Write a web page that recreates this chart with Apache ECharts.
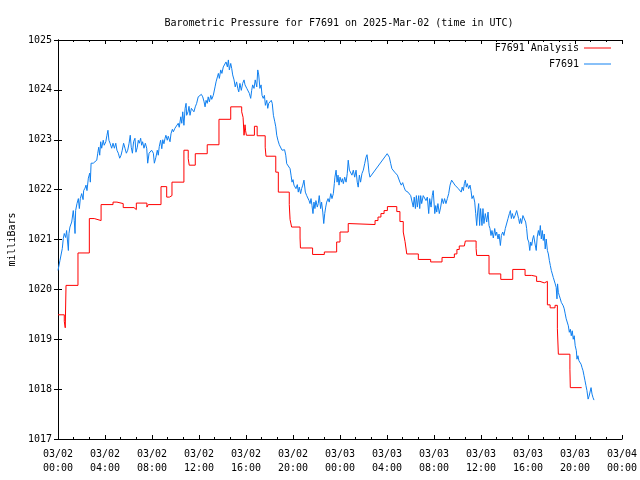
<!DOCTYPE html>
<html>
<head>
<meta charset="utf-8">
<script src="https://cdn.jsdelivr.net/npm/echarts@6/dist/echarts.min.js"></script>
<style>html,body{margin:0;padding:0;background:#fff}#c{width:640px;height:480px}</style>
</head>
<body>
<div id="c"></div>
<script>
// minutes since 2025-03-02 00:00 UTC
const blueTime = [0,10,22,27,32,39,44,49,53,56,61,70,78,83,87,90,97,104,109,114,121,128,131,138,143,148,155,162,165,169,180,189,198,203,208,213,218,223,231,236,244,250,255,260,266,274,281,288,295,301,308,315,322,328,335,342,349,356,363,369,374,380,386,393,398,405,410,415,422,427,432,439,446,453,458,465,471,478,487,492,500,507,512,517,524,530,535,541,546,551,558,563,572,577,584,589,597,606,614,619,627,632,637,643,649,654,657,664,669,674,681,688,694,701,708,716,725,732,739,746,751,756,762,767,773,780,785,793,802,807,814,819,824,831,837,844,851,858,865,870,875,882,887,892,899,905,912,918,923,929,936,943,950,955,964,970,977,984,989,994,1001,1007,1015,1020,1025,1031,1037,1042,1048,1054,1059,1066,1071,1076,1083,1089,1094,1100,1107,1112,1117,1123,1130,1137,1144,1151,1157,1163,1168,1176,1185,1190,1195,1200,1205,1210,1215,1222,1227,1232,1239,1244,1250,1256,1263,1270,1277,1282,1287,1292,1297,1302,1307,1312,1317,1324,1329,1334,1341,1346,1352,1357,1362,1367,1372,1379,1385,1393,1399,1406,1411,1414,1420,1425,1430,1435,1440,1447,1452,1457,1464,1471,1477,1482,1488,1494,1501,1508,1515,1522,1528,1533,1539,1545,1552,1559,1566,1573,1578,1583,1588,1593,1600,1681,1692,1699,1705,1712,1719,1726,1733,1740,1746,1753,1760,1767,1774,1781,1787,1794,1801,1808,1814,1819,1825,1830,1835,1842,1847,1852,1857,1865,1872,1879,1886,1893,1898,1905,1911,1916,1924,1929,1934,1940,1947,1954,1961,1968,1974,1981,1988,1995,2002,2010,2019,2027,2036,2044,2053,2059,2064,2070,2075,2080,2085,2090,2097,2104,2109,2114,2121,2128,2133,2138,2143,2148,2153,2158,2165,2170,2175,2182,2189,2196,2201,2206,2211,2216,2223,2230,2235,2240,2247,2252,2259,2264,2271,2277,2284,2291,2298,2305,2310,2315,2320,2327,2334,2342,2347,2352,2357,2362,2367,2374,2381,2388,2393,2398,2404,2409,2414,2419,2424,2429,2436,2442,2447,2453,2458,2463,2468,2473,2478,2483,2488,2493,2499,2504,2509,2514,2519,2524,2529,2534,2539,2544,2548,2551,2555,2560,2565,2570,2575,2580,2585,2590,2595,2601,2606,2611,2616,2621,2626,2631,2636,2641,2647,2650,2655,2660,2666,2671,2676,2681,2686,2691,2696,2701,2707,2712,2717,2722,2727,2732,2737];
const blueValue = [1020.38,1020.58,1020.82,1021.02,1021.12,1021.04,1021.18,1020.95,1020.78,1021.12,1021.25,1021.35,1021.58,1021.38,1021.12,1021.58,1021.72,1021.82,1021.62,1021.82,1021.92,1021.80,1021.98,1022.03,1022.09,1021.98,1022.23,1022.33,1022.15,1022.53,1022.53,1022.53,1022.59,1022.73,1022.85,1022.69,1022.96,1022.83,1022.99,1022.89,1022.96,1023.09,1023.19,1022.99,1022.93,1022.83,1022.93,1022.83,1022.93,1022.79,1022.73,1022.63,1022.69,1022.79,1022.93,1022.83,1022.73,1022.79,1022.93,1023.09,1022.85,1022.73,1022.96,1023.03,1022.75,1022.85,1022.99,1022.93,1023.03,1022.89,1022.96,1022.83,1022.93,1022.83,1022.53,1022.73,1022.75,1022.79,1022.73,1022.53,1022.65,1022.79,1022.69,1022.86,1022.99,1022.82,1023.00,1022.92,1023.02,1023.09,1022.99,1023.07,1022.96,1023.12,1023.21,1023.16,1023.23,1023.26,1023.33,1023.25,1023.46,1023.33,1023.56,1023.29,1023.63,1023.73,1023.49,1023.56,1023.67,1023.49,1023.63,1023.61,1023.56,1023.66,1023.73,1023.86,1023.83,1023.91,1023.86,1023.76,1023.66,1023.79,1023.73,1023.86,1023.76,1023.89,1023.81,1023.89,1024.06,1024.16,1024.26,1024.33,1024.23,1024.40,1024.33,1024.46,1024.43,1024.56,1024.46,1024.60,1024.40,1024.53,1024.43,1024.30,1024.20,1024.06,1024.16,1024.03,1023.96,1024.13,1023.99,1024.13,1024.20,1024.10,1024.03,1023.99,1023.93,1023.83,1023.99,1024.10,1024.03,1024.20,1024.06,1024.40,1024.30,1024.03,1024.10,1023.89,1023.83,1023.89,1023.69,1023.79,1023.63,1023.73,1023.69,1023.79,1023.73,1023.49,1023.36,1023.26,1023.09,1022.99,1022.90,1022.89,1022.79,1022.75,1022.80,1022.69,1022.52,1022.50,1022.42,1022.29,1022.15,1022.20,1022.09,1022.12,1022.02,1022.10,1021.95,1022.05,1021.92,1022.02,1022.09,1022.19,1021.95,1021.88,1021.92,1021.78,1021.72,1021.82,1021.68,1021.52,1021.75,1021.62,1021.78,1021.65,1021.72,1021.88,1021.62,1021.75,1021.55,1021.32,1021.52,1021.65,1021.75,1021.82,1021.75,1021.92,1021.82,1021.92,1022.12,1022.25,1022.39,1022.15,1022.29,1022.09,1022.25,1022.15,1022.22,1022.12,1022.25,1022.15,1022.32,1022.59,1022.39,1022.42,1022.29,1022.39,1022.25,1022.39,1022.15,1022.05,1022.29,1022.15,1022.32,1022.39,1022.52,1022.65,1022.70,1022.55,1022.35,1022.25,1022.29,1022.72,1022.65,1022.52,1022.42,1022.45,1022.35,1022.39,1022.29,1022.25,1022.15,1022.09,1022.14,1022.05,1021.98,1022.02,1021.95,1021.92,1021.88,1021.88,1021.65,1021.85,1021.62,1021.88,1021.65,1021.88,1021.62,1021.88,1021.72,1021.88,1021.88,1021.78,1021.85,1021.52,1021.82,1021.65,1021.88,1021.98,1021.52,1021.68,1021.55,1021.72,1021.52,1021.65,1021.82,1021.72,1021.82,1021.72,1021.82,1021.92,1022.09,1022.19,1022.15,1022.09,1022.05,1022.02,1021.98,1021.95,1022.05,1021.98,1022.12,1022.19,1022.05,1022.12,1022.02,1022.09,1021.98,1021.82,1021.88,1021.75,1021.52,1021.28,1021.55,1021.72,1021.28,1021.62,1021.28,1021.62,1021.32,1021.52,1021.35,1021.55,1021.28,1021.22,1021.08,1021.18,1021.03,1021.22,1021.08,1021.15,1021.01,1021.11,1020.88,1021.08,1021.15,1021.08,1021.22,1021.25,1021.42,1021.52,1021.58,1021.42,1021.52,1021.42,1021.48,1021.58,1021.55,1021.42,1021.32,1021.42,1021.32,1021.48,1021.48,1021.35,1021.22,1021.01,1020.95,1020.78,1020.95,1020.88,1021.01,1021.08,1020.91,1020.78,1021.05,1021.18,1021.08,1021.28,1021.01,1021.18,1020.98,1021.11,1020.81,1021.01,1020.78,1020.71,1020.58,1020.48,1020.38,1020.31,1020.24,1020.21,1020.11,1020.04,1019.81,1020.11,1019.94,1019.87,1019.81,1019.74,1019.77,1019.67,1019.61,1019.51,1019.41,1019.39,1019.27,1019.14,1019.20,1019.07,1019.17,1019.00,1019.07,1018.87,1018.77,1018.60,1018.67,1018.57,1018.53,1018.50,1018.43,1018.37,1018.27,1018.17,1018.07,1017.97,1017.80,1017.86,1017.90,1018.03,1017.90,1017.83,1017.78];

const redTime = [0,32,37,41,102,160,185,220,281,301,333,388,400,454,461,526,555,569,582,643,665,670,701,762,822,882,938,945,950,955,958,962,1003,1017,1058,1062,1112,1125,1181,1185,1193,1236,1238,1300,1360,1423,1440,1482,1490,1619,1634,1649,1665,1682,1730,1746,1763,1772,1781,1840,1903,1961,2024,2037,2049,2075,2080,2135,2138,2201,2261,2322,2385,2419,2444,2461,2483,2499,2513,2538,2550,2555,2614,2616,2674];
const redValue = [1019.49,1019.36,1019.23,1020.08,1020.73,1021.42,1021.38,1021.70,1021.75,1021.72,1021.64,1021.60,1021.73,1021.65,1021.70,1022.06,1021.85,1021.88,1022.15,1022.79,1022.62,1022.49,1022.72,1022.90,1023.41,1023.66,1023.56,1023.45,1023.09,1023.30,1023.18,1023.09,1023.27,1023.08,1022.85,1022.67,1022.35,1021.95,1021.70,1021.40,1021.25,1021.03,1020.83,1020.70,1020.75,1020.95,1021.15,1021.32,1021.30,1021.38,1021.45,1021.52,1021.58,1021.66,1021.56,1021.36,1021.15,1020.96,1020.71,1020.60,1020.55,1020.64,1020.71,1020.80,1020.87,1020.89,1020.97,1020.82,1020.68,1020.31,1020.20,1020.40,1020.28,1020.26,1020.16,1020.13,1020.16,1019.69,1019.63,1019.68,1019.21,1018.70,1018.40,1018.03,1018.03];

const xTickLabels = ['03/02\n00:00','03/02\n04:00','03/02\n08:00','03/02\n12:00','03/02\n16:00','03/02\n20:00','03/03\n00:00','03/03\n04:00','03/03\n08:00','03/03\n12:00','03/03\n16:00','03/03\n20:00','03/04\n00:00'];
const seriesNames = ['F7691 Analysis', 'F7691'];
const seriesColors = ['#ff0000', '#1080f0'];

const FONT = 'DejaVu Sans Mono';
const zip = (a, b) => a.map((t, i) => [t, b[i]]);

const chart = echarts.init(document.getElementById('c'), null, {renderer: 'canvas'});
const axisLine = {show: true, lineStyle: {color: '#000', width: 1}};
const tick = {show: true, inside: true, length: 4, lineStyle: {color: '#000'}};
const minor = {show: true, splitNumber: 3, length: 2, lineStyle: {color: '#000'}};
chart.setOption({
  animation: false,
  backgroundColor: '#fff',
  title: {
    text: 'Barometric Pressure for F7691 on 2025-Mar-02 (time in UTC)',
    left: 334, top: 13, textAlign: 'center',
    textStyle: {fontFamily: FONT, fontSize: 10, fontWeight: 'normal', color: '#000'}
  },
  legend: {
    data: seriesNames.map(n => ({name: n, icon: 'rect'})),
    orient: 'vertical', align: 'right',
    right: 24, top: 38, itemWidth: 27, itemHeight: 1, itemGap: 6,
    textStyle: {fontFamily: FONT, fontSize: 10, color: '#000'}
  },
  grid: {left: 58, right: 18, top: 40, bottom: 41, containLabel: false, outerBoundsMode: 'none'},
  xAxis: [{
    type: 'value', min: 0, max: 2880, interval: 240,
    axisLine, axisTick: tick, minorTick: minor,
    splitLine: {show: false},
    axisLabel: {
      fontFamily: FONT, fontSize: 10, color: '#000', margin: 8, lineHeight: 14,
      formatter: v => xTickLabels[Math.round(v / 240)]
    }
  }, {
    type: 'value', position: 'top', min: 0, max: 2880, interval: 240,
    axisLine, axisTick: tick, minorTick: minor,
    splitLine: {show: false}, axisLabel: {show: false}
  }],
  yAxis: [{
    type: 'value', min: 1017, max: 1025, interval: 1,
    axisLine, axisTick: tick, splitLine: {show: false},
    name: 'milliBars', nameLocation: 'middle', nameGap: 41, nameRotate: 90,
    nameTextStyle: {fontFamily: FONT, fontSize: 10, color: '#000'},
    axisLabel: {fontFamily: FONT, fontSize: 10, color: '#000', margin: 6, formatter: v => String(v)}
  }, {
    type: 'value', position: 'right', min: 1017, max: 1025, interval: 1,
    axisLine, axisTick: tick, splitLine: {show: false}, axisLabel: {show: false}
  }],
  series: [{
    name: seriesNames[0], type: 'line', step: 'end', symbol: 'none',
    data: zip(redTime, redValue),
    lineStyle: {color: seriesColors[0], width: 1}, itemStyle: {color: seriesColors[0]}
  }, {
    name: seriesNames[1], type: 'line', symbol: 'none',
    data: zip(blueTime, blueValue),
    lineStyle: {color: seriesColors[1], width: 1}, itemStyle: {color: seriesColors[1]}
  }]
});
</script>
</body>
</html>
